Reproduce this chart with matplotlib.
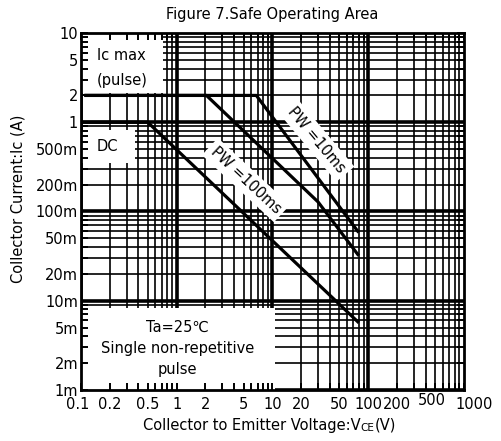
import matplotlib
matplotlib.use("Agg")
import matplotlib.pyplot as plt
from matplotlib.patches import Rectangle
from matplotlib.transforms import ScaledTranslation

plt.rcParams['font.family'] = ['DejaVu Sans']

# Safe operating area curves (VCE in V, Ic in A)
dc_v = [0.1, 0.5, 78]
dc_i = [1.0, 1.0, 0.0058]
pw100_v = [0.113, 2.05, 30, 78]
pw100_i = [2.0, 2.0, 0.128, 0.033]
pw10_v = [0.113, 6.8, 78]
pw10_i = [2.0, 2.0, 0.06]

x_ticks = [0.1, 0.2, 0.5, 1, 2, 5, 10, 20, 50, 100, 200, 500, 1000]
x_labels = ["0.1", "0.2", "0.5", "1", "2", "5", "10", "20", "50", "100", "200", "500", "1000"]
y_ticks = [1e-3, 2e-3, 5e-3, 1e-2, 2e-2, 5e-2, 0.1, 0.2, 0.5, 1, 2, 5, 10]
y_labels = ["1m", "2m", "5m", "10m", "20m", "50m", "100m", "200m", "500m", "1", "2", "5", "10"]

fig = plt.figure(figsize=(5.02, 4.41), dpi=100)
ax = fig.add_axes([0.161, 0.116, 0.763, 0.809])
ax.set_xscale('log')
ax.set_yscale('log')
ax.set_xlim(0.1, 1000)
ax.set_ylim(1e-3, 10)

# grid: every 1..9 of each decade, decades heavier
for d in range(-1, 3):
    for m in range(1, 10):
        ax.axvline(m * 10.0 ** d, color='black', lw=2.6 if m == 1 else 1.2, zorder=0.5)
for d in range(-3, 1):
    for m in range(1, 10):
        ax.axhline(m * 10.0 ** d, color='black', lw=2.6 if m == 1 else 1.2, zorder=0.5)

# white label boxes covering the grid
ax.add_patch(Rectangle((0, 0.832), 0.214, 0.168, transform=ax.transAxes,
                       facecolor='white', edgecolor='none', zorder=1))
ax.add_patch(Rectangle((0, 0.636), 0.141, 0.092, transform=ax.transAxes,
                       facecolor='white', edgecolor='none', zorder=1))
ax.add_patch(Rectangle((0, 0), 0.507, 0.23, transform=ax.transAxes,
                       facecolor='white', edgecolor='none', zorder=1))

ax.plot(dc_v, dc_i, color='black', lw=2.3, zorder=3)
ax.plot(pw100_v, pw100_i, color='black', lw=2.3, zorder=3)
ax.plot(pw10_v, pw10_i, color='black', lw=2.3, zorder=3)

fs = 10.5
ax.text(0.107, 0.938, "Ic max", transform=ax.transAxes, ha='center', va='center', fontsize=fs, zorder=4)
ax.text(0.107, 0.866, "(pulse)", transform=ax.transAxes, ha='center', va='center', fontsize=fs, zorder=4)
ax.text(0.07, 0.683, "DC", transform=ax.transAxes, ha='center', va='center', fontsize=fs, zorder=4)
ax.text(0.253, 0.176, "Ta=25℃", transform=ax.transAxes, ha='center', va='center', fontsize=fs, zorder=4)
ax.text(0.253, 0.116, "Single non-repetitive", transform=ax.transAxes, ha='center', va='center', fontsize=fs, zorder=4)
ax.text(0.253, 0.056, "pulse", transform=ax.transAxes, ha='center', va='center', fontsize=fs, zorder=4)

box = dict(facecolor='white', edgecolor='none', pad=3)
ax.text(0.431, 0.588, "PW =100ms", transform=ax.transAxes, ha='center', va='center',
        fontsize=fs, rotation=-43, rotation_mode='anchor', bbox=box, zorder=4)
ax.text(0.616, 0.700, "PW =10ms", transform=ax.transAxes, ha='center', va='center',
        fontsize=fs, rotation=-50, rotation_mode='anchor', bbox=box, zorder=4)

ax.set_xticks(x_ticks)
ax.set_xticklabels(x_labels)
ax.set_yticks(y_ticks)
ax.set_yticklabels(y_labels)
ax.set_xticks([m * 10.0 ** d for d in range(-1, 3) for m in (3, 4, 6, 7, 8, 9)], minor=True)
ax.set_yticks([m * 10.0 ** d for d in range(-3, 1) for m in (3, 4, 6, 7, 8, 9)], minor=True)
ax.xaxis.set_minor_formatter(plt.NullFormatter())
ax.yaxis.set_minor_formatter(plt.NullFormatter())
ax.tick_params(which='both', direction='in', length=5, width=1.4, top=True, right=True,
               labelsize=fs, colors='black')
ax.tick_params(axis='x', pad=5)
ax.tick_params(axis='y', pad=2)
ax.set_axisbelow(False)
for s in ax.spines.values():
    s.set_linewidth(2)
    s.set_zorder(5)

# the 500 label sits a bit higher and 1000 pokes out to the right, like the datasheet
xl = ax.get_xticklabels()
xl[0].set_transform(xl[0].get_transform() + ScaledTranslation(-3 / 100, 0, fig.dpi_scale_trans))
xl[11].set_transform(xl[11].get_transform() + ScaledTranslation(-3 / 100, 4 / 100, fig.dpi_scale_trans))
xl[12].set_transform(xl[12].get_transform() + ScaledTranslation(10 / 100, 0, fig.dpi_scale_trans))

fig.text(0.036, 0.55, "Collector Current:Ic (A)", rotation=90, ha='center', va='center', fontsize=fs)
fig.text(0.543, 0.966, "Figure 7.Safe Operating Area", ha='center', va='center', fontsize=fs)

# x label with small-caps "CE"
t1 = fig.text(0.285, 0.026, "Collector to Emitter Voltage:V", ha='left', va='baseline', fontsize=fs)
t2 = ax.annotate("CE", xy=(1, 0), xycoords=t1, va='bottom', ha='left', fontsize=fs * 0.72,
                 annotation_clip=False)
ax.annotate("(V)", xy=(1, 0), xycoords=t2, va='bottom', ha='left', fontsize=fs,
            annotation_clip=False)

fig.savefig("out.png", dpi=100)
